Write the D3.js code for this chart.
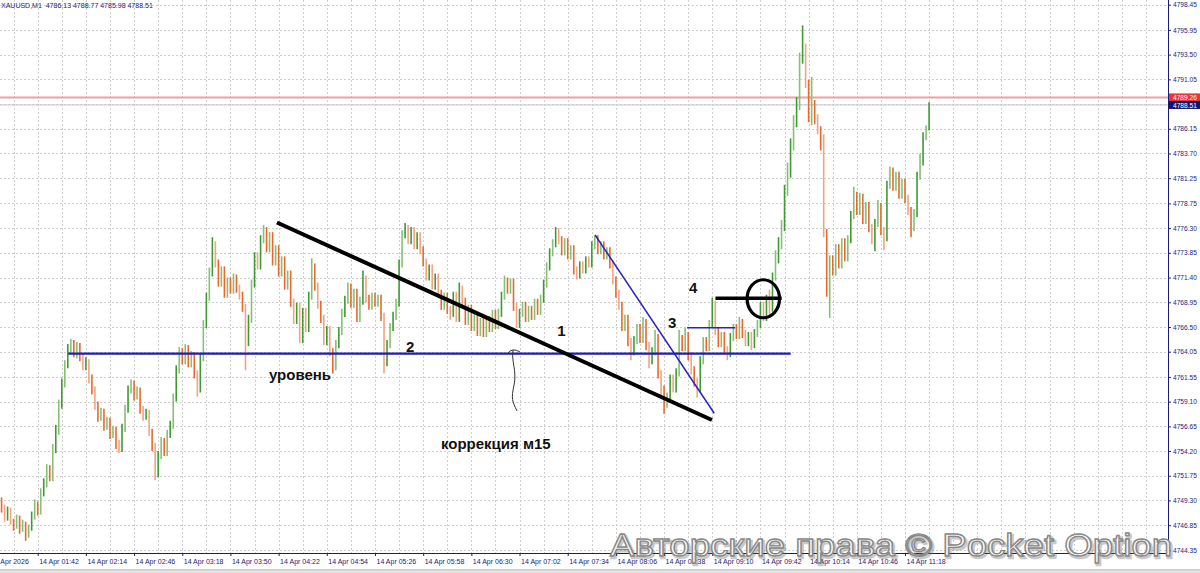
<!DOCTYPE html>
<html><head><meta charset="utf-8">
<script src="https://cdn.jsdelivr.net/npm/d3@7"></script>
<style>body{margin:0;background:#fff}svg{display:block}</style>
</head><body>
<svg id="c" width="1200" height="573"></svg>
<script>
// ---------- data ----------
const symbolHeader = "XAUUSD,M1  4786.13 4788.77 4785.98 4788.51";
const firstBarMinute = 78;      // 01:18
const barStepMinutes = 2;
const firstOpen = 4749.0;
const closes = [
4748.5,4747.6,4748.3,4747.2,4746.8,4747.5,4746.4,4747.0,4745.9,4746.6,
4747.8,4748.9,4748.2,4750.1,4751.0,4752.4,4751.6,4754.5,4756.2,4758.8,
4760.9,4762.8,4764.3,4764.9,4763.9,4764.6,4763.5,4762.6,4763.0,4761.4,
4760.2,4758.7,4757.5,4758.1,4756.6,4757.2,4755.8,4756.3,4754.8,4754.5,
4756.5,4758.4,4760.3,4760.9,4759.6,4760.2,4758.3,4757.6,4758.0,4756.1,
4754.6,4752.0,4753.8,4755.2,4754.1,4755.9,4756.8,4759.5,4762.3,4764.0,
4763.2,4764.4,4762.9,4763.7,4761.8,4760.4,4763.5,4766.8,4769.5,4771.9,
4774.6,4772.8,4770.9,4772.1,4769.8,4771.0,4770.2,4771.4,4770.3,4769.6,
4768.4,4765.0,4767.3,4770.8,4773.5,4772.6,4775.2,4776.0,4774.3,4775.5,
4773.0,4774.2,4771.9,4773.1,4770.6,4771.7,4768.9,4767.2,4768.5,4765.3,
4768.0,4766.4,4769.6,4772.4,4770.5,4768.7,4767.3,4765.1,4766.2,4764.0,
4762.6,4764.8,4766.1,4767.9,4769.2,4770.4,4768.8,4769.9,4767.4,4769.1,
4771.2,4769.3,4768.6,4769.5,4768.9,4769.3,4767.5,4763.0,4764.8,4766.5,
4767.6,4768.9,4772.8,4775.7,4776.2,4775.1,4776.0,4774.6,4775.5,4774.1,
4772.9,4771.5,4772.3,4770.6,4771.4,4769.8,4768.6,4769.5,4768.2,4767.9,
4769.6,4767.4,4770.2,4769.0,4767.1,4768.3,4766.5,4767.6,4766.0,4767.0,
4765.9,4767.2,4766.4,4767.8,4766.7,4767.9,4769.6,4771.0,4770.2,4770.9,
4768.5,4766.8,4767.9,4768.6,4767.4,4768.2,4767.6,4768.9,4768.1,4769.3,
4770.8,4772.5,4773.9,4774.8,4775.9,4775.1,4774.0,4774.9,4773.6,4774.2,
4772.1,4771.7,4772.6,4772.2,4773.1,4772.8,4774.6,4775.2,4774.1,4774.6,
4773.6,4774.0,4772.7,4771.1,4769.8,4768.6,4766.5,4767.3,4765.0,4764.1,
4765.2,4766.4,4765.3,4766.9,4764.6,4763.2,4764.1,4765.4,4761.8,4760.3,
4758.9,4759.6,4761.4,4760.4,4762.0,4765.3,4764.5,4765.6,4763.6,4762.2,
4761.0,4760.4,4763.2,4765.1,4764.5,4766.8,4768.7,4766.1,4764.9,4765.6,
4764.2,4763.9,4765.5,4766.4,4765.7,4766.9,4765.8,4765.0,4765.6,4764.8,
4765.9,4766.8,4768.6,4767.5,4769.3,4768.4,4771.5,4773.2,4774.6,4776.4,
4779.9,4781.7,4784.6,4786.9,4788.4,4793.0,4794.2,4790.6,4787.3,4788.6,
4787.2,4786.0,4784.5,4775.8,4771.5,4773.2,4772.0,4774.3,4772.7,4774.9,
4773.4,4775.2,4777.6,4779.5,4778.0,4779.3,4777.1,4778.5,4776.3,4775.1,
4776.8,4778.4,4776.0,4775.3,4780.6,4781.9,4780.4,4781.5,4779.6,4780.8,
4779.2,4778.0,4776.4,4777.8,4781.5,4782.9,4785.4,4786.13,4788.51];
const highs = [
4749.6,4748.9,4748.7,4748.6,4747.5,4747.9,4747.8,4747.4,4747.2,4746.9,
4748.2,4749.4,4749.2,4750.5,4751.5,4752.9,4752.8,4754.9,4756.8,4759.3,
4761.4,4763.2,4764.8,4765.3,4765.2,4765.0,4764.9,4763.9,4763.5,4763.3,
4761.8,4760.6,4759.1,4758.5,4758.4,4757.6,4757.5,4756.7,4756.6,4755.3,
4756.9,4758.8,4760.7,4761.3,4761.2,4760.6,4760.5,4758.7,4758.4,4758.3,
4756.4,4755.0,4754.2,4755.6,4755.5,4756.3,4757.2,4759.9,4762.7,4764.5,
4764.4,4764.8,4764.7,4764.1,4764.0,4762.2,4763.9,4767.2,4769.9,4772.4,
4775.4,4775.0,4773.2,4772.5,4772.5,4771.4,4771.4,4771.8,4771.7,4770.7,
4770.0,4768.8,4767.7,4771.2,4773.9,4773.9,4775.6,4776.6,4776.4,4775.9,
4775.9,4774.6,4774.6,4773.5,4773.5,4772.1,4772.1,4769.3,4768.9,4768.9,
4768.4,4768.4,4770.0,4773.3,4772.8,4770.9,4769.1,4767.7,4766.6,4766.6,
4764.4,4765.2,4766.5,4768.3,4769.6,4770.9,4770.8,4770.3,4770.3,4769.5,
4772.1,4771.6,4769.7,4769.9,4769.9,4769.7,4769.7,4767.9,4765.2,4766.9,
4768.0,4769.3,4773.2,4776.1,4776.8,4776.6,4776.4,4776.4,4775.9,4775.9,
4774.5,4773.3,4772.7,4772.7,4771.8,4771.8,4770.2,4769.9,4769.9,4768.6,
4770.0,4770.0,4770.9,4770.6,4769.4,4768.7,4768.7,4768.0,4768.0,4767.4,
4767.4,4767.6,4767.6,4768.2,4768.2,4768.3,4770.0,4771.6,4771.4,4771.3,
4771.3,4768.9,4768.3,4769.0,4769.0,4768.6,4768.6,4769.3,4769.3,4769.7,
4771.2,4772.9,4774.3,4775.2,4776.4,4776.3,4775.5,4775.3,4775.3,4774.6,
4774.6,4772.5,4773.0,4773.0,4773.5,4773.5,4775.0,4775.6,4775.6,4775.0,
4775.0,4774.4,4774.4,4773.1,4771.5,4770.2,4769.0,4767.7,4767.7,4765.4,
4765.6,4766.8,4766.8,4767.5,4767.3,4765.0,4764.5,4766.2,4765.8,4762.2,
4760.7,4760.0,4761.8,4761.8,4762.4,4766.2,4765.7,4766.4,4766.0,4764.0,
4762.6,4761.4,4763.6,4765.5,4765.5,4767.2,4769.4,4769.1,4766.5,4766.0,
4766.0,4764.6,4765.9,4766.8,4766.8,4767.5,4767.3,4766.2,4766.0,4766.0,
4766.3,4767.2,4769.0,4769.0,4769.7,4770.2,4771.9,4774.1,4775.4,4777.1,
4780.6,4782.8,4785.2,4787.5,4789.3,4793.7,4796.4,4794.6,4791.0,4791.3,
4789.0,4787.6,4786.4,4785.6,4776.2,4773.6,4773.6,4774.7,4774.7,4775.3,
4775.3,4775.6,4778.0,4780.4,4779.9,4779.8,4779.7,4778.9,4778.9,4776.7,
4777.2,4779.1,4778.8,4776.4,4781.0,4782.4,4782.3,4781.9,4781.9,4781.2,
4781.2,4779.6,4778.4,4778.2,4781.9,4783.7,4785.8,4786.5,4788.77];
const lows = [
4748.1,4747.2,4747.3,4746.9,4746.3,4746.5,4746.0,4746.2,4745.3,4745.6,
4746.3,4747.4,4747.8,4747.9,4749.7,4750.6,4751.2,4751.2,4754.0,4755.8,
4758.4,4760.5,4762.4,4763.9,4763.5,4763.4,4763.1,4762.2,4762.2,4760.9,
4759.8,4758.3,4757.1,4757.2,4756.2,4756.3,4755.4,4755.5,4754.4,4754.0,
4754.1,4756.1,4758.0,4759.9,4759.2,4759.3,4757.9,4757.2,4757.3,4755.7,
4754.2,4751.3,4751.6,4753.4,4753.7,4753.7,4755.5,4756.4,4759.1,4761.9,
4762.8,4762.8,4762.5,4762.5,4761.4,4759.6,4760.0,4763.1,4766.4,4769.1,
4771.5,4772.4,4770.5,4770.5,4769.4,4769.4,4769.8,4769.8,4769.9,4769.2,
4768.0,4762.2,4764.6,4766.9,4770.4,4772.2,4772.2,4774.8,4773.9,4773.9,
4772.6,4772.6,4771.5,4771.5,4770.2,4770.2,4768.5,4766.8,4766.8,4764.9,
4764.9,4766.0,4766.0,4769.2,4770.1,4768.3,4766.9,4764.7,4764.7,4763.6,
4761.9,4762.2,4764.4,4765.7,4767.5,4768.8,4768.4,4768.4,4767.0,4767.0,
4768.7,4768.9,4768.2,4768.2,4768.5,4768.5,4767.1,4761.9,4762.6,4764.4,
4766.1,4767.2,4768.5,4772.4,4775.3,4774.7,4774.7,4774.2,4774.2,4773.7,
4772.5,4771.1,4771.1,4770.2,4770.2,4769.4,4768.2,4768.2,4767.8,4767.2,
4767.5,4767.0,4767.0,4768.6,4766.7,4766.7,4766.1,4766.1,4765.6,4765.6,
4765.5,4765.5,4766.0,4766.0,4766.3,4766.3,4767.5,4769.2,4769.8,4769.8,
4768.1,4766.4,4766.4,4767.5,4767.0,4767.0,4767.2,4767.2,4767.7,4767.7,
4768.9,4770.4,4772.1,4773.5,4774.4,4774.7,4773.6,4773.6,4773.2,4773.2,
4771.7,4771.2,4771.3,4771.8,4771.8,4772.4,4772.4,4774.2,4773.7,4773.7,
4773.2,4773.2,4772.3,4770.7,4769.4,4768.2,4766.1,4766.1,4764.6,4763.2,
4763.7,4764.8,4764.9,4764.9,4764.2,4762.4,4762.8,4763.7,4761.4,4759.6,
4757.9,4758.5,4759.2,4760.0,4760.0,4761.6,4764.1,4764.1,4763.2,4761.8,
4760.6,4759.5,4760.0,4762.8,4764.1,4764.1,4766.4,4765.7,4764.5,4764.5,
4763.8,4763.2,4763.5,4765.1,4765.3,4765.3,4765.4,4764.6,4764.6,4764.2,
4764.4,4765.5,4766.4,4767.1,4767.1,4767.6,4768.0,4771.1,4772.8,4774.2,
4776.0,4779.5,4781.3,4784.0,4786.3,4788.0,4792.6,4790.2,4786.8,4786.5,
4786.6,4785.6,4784.0,4775.4,4769.5,4767.4,4771.6,4771.6,4772.3,4772.3,
4773.0,4773.0,4774.8,4777.2,4777.6,4777.6,4776.7,4776.7,4775.9,4774.7,
4774.0,4776.4,4775.6,4774.1,4775.0,4780.2,4780.0,4780.0,4779.2,4779.2,
4778.8,4777.6,4775.4,4776.0,4777.4,4781.1,4782.5,4785.0,4785.98];

const priceTicks = [4798.45,4795.95,4793.50,4791.05,4788.60,4786.15,4783.70,4781.25,4778.75,4776.30,4773.85,4771.40,4768.95,4766.50,4764.05,4761.55,4759.10,4756.65,4754.20,4751.75,4749.30,4746.85,4744.35];
const timeTicks = [70,102,134,166,198,230,262,294,326,358,390,422,454,486,518,550,582,614,646,678];
const timeTickLabels = ["14 Apr 2026","14 Apr 01:42","14 Apr 02:14","14 Apr 02:46","14 Apr 03:18","14 Apr 03:50","14 Apr 04:22","14 Apr 04:54","14 Apr 05:26","14 Apr 05:58","14 Apr 06:30","14 Apr 07:02","14 Apr 07:34","14 Apr 08:06","14 Apr 08:38","14 Apr 09:10","14 Apr 09:42","14 Apr 10:14","14 Apr 10:46","14 Apr 11:18"];
const askPrice = 4789.26;
const bidPrice = 4788.51;

// annotation objects (time in minutes of day, price)
const levelLine = {t1:122.3, t2:602.1, p:4763.85};
const blackTrend = {t1:260.9, p1:4776.86, t2:549.8, p2:4757.28};
const blueTrend = {t1:472.2, p1:4775.62, t2:551.3, p2:4757.95};
const smallBlueLine = {t1:533.3, t2:565.2, p:4766.43};
const blackHLine = {t1:552.1, t2:596.1, p:4769.35};
const circleMark = {t:583.9, p:4769.30};
const arrowTip = {t:417.7, p:4764.32};
const labels = [
  {text:"1", t:447.0, p:4765.61},
  {text:"2", t:346.6, p:4764.02},
  {text:"3", t:520.6, p:4766.40},
  {text:"4", t:534.6, p:4769.87},
  {text:"уровень", t:255.6, p:4761.25},
  {text:"коррекция м15", t:369.8, p:4754.41}
];
const watermark = "Авторские права © Pocket Option";

// ---------- layout ----------
const W = 1200, H = 573, plotR = 1168, plotB = 553;
const navy = "#1c1c78";
const x = d3.scaleLinear().domain([102, 678]).range([37.7, 905]);
const y = d3.scaleLinear().domain([4744.35, 4798.45]).range([550.4, 4.7]);

const svg = d3.select("#c");
svg.append("rect").attr("width", W).attr("height", H).attr("fill", "#fff");
svg.append("defs").append("clipPath").attr("id","plot")
  .append("rect").attr("x",0).attr("y",0).attr("width",plotR).attr("height",plotB);
const plot = svg.append("g").attr("clip-path","url(#plot)");

// grid
const grid = plot.append("g").attr("stroke","#cfcfcf").attr("stroke-dasharray","2,2").attr("stroke-width",1);
grid.selectAll("line.h").data(priceTicks).join("line")
  .attr("x1",0).attr("x2",plotR).attr("y1",d=>Math.round(y(d))+0.5).attr("y2",d=>Math.round(y(d))+0.5);
grid.selectAll("line.v").data(d3.range(54, 880, 16)).join("line")
  .attr("y1",0).attr("y2",plotB).attr("x1",d=>Math.round(x(d))+0.5).attr("x2",d=>Math.round(x(d))+0.5);

// ask / bid lines
plot.append("line").attr("x1",0).attr("x2",plotR).attr("y1",y(askPrice)).attr("y2",y(askPrice))
  .attr("stroke","#f2a0a0").attr("stroke-width",2);
plot.append("line").attr("x1",0).attr("x2",plotR).attr("y1",y(bidPrice)).attr("y2",y(bidPrice))
  .attr("stroke","#c8c8c8").attr("stroke-width",1);

// bars
const bars = closes.map((c,i)=>{
  const o = i ? closes[i-1] : firstOpen;
  return {t:firstBarMinute + i*barStepMinutes, o, c,
          hi:Math.max(highs[i],o,c), lo:Math.min(lows[i],o,c)};
});
plot.append("g").selectAll("line").data(bars).join("line")
  .attr("x1",d=>x(d.t)).attr("x2",d=>x(d.t))
  .attr("y1",d=>y(d.hi)).attr("y2",d=>y(d.lo))
  .attr("stroke",(d,i)=> d.c>=d.o ? (i%2 ? "#86c074" : "#3f9a35") : (i%2 ? "#f2a482" : "#e8682e"))
  .attr("stroke-width",1.6);

// annotations
const ann = plot.append("g");
ann.append("line").attr("x1",x(levelLine.t1)).attr("x2",x(levelLine.t2))
  .attr("y1",y(levelLine.p)).attr("y2",y(levelLine.p)).attr("stroke","#1e1eb0").attr("stroke-width",2.2);
ann.append("line").attr("x1",x(blackTrend.t1)).attr("y1",y(blackTrend.p1))
  .attr("x2",x(blackTrend.t2)).attr("y2",y(blackTrend.p2)).attr("stroke","#000").attr("stroke-width",4);
ann.append("line").attr("x1",x(blueTrend.t1)).attr("y1",y(blueTrend.p1))
  .attr("x2",x(blueTrend.t2)).attr("y2",y(blueTrend.p2)).attr("stroke","#2424c8").attr("stroke-width",1.5);
ann.append("line").attr("x1",x(smallBlueLine.t1)).attr("x2",x(smallBlueLine.t2))
  .attr("y1",y(smallBlueLine.p)).attr("y2",y(smallBlueLine.p)).attr("stroke","#2424c8").attr("stroke-width",1.5);
ann.append("line").attr("x1",x(blackHLine.t1)).attr("x2",x(blackHLine.t2))
  .attr("y1",y(blackHLine.p)).attr("y2",y(blackHLine.p)).attr("stroke","#000").attr("stroke-width",3.5);
ann.append("ellipse").attr("cx",x(circleMark.t)).attr("cy",y(circleMark.p))
  .attr("rx",16.2).attr("ry",19).attr("fill","none").attr("stroke","#000").attr("stroke-width",3.2);
const arr = ann.append("g").attr("transform",`translate(${x(arrowTip.t)},${y(arrowTip.p)})`)
  .attr("fill","none").attr("stroke","#333").attr("stroke-width",1);
arr.append("path").attr("d","M0,1 C-2,12 4,22 1,36 S-1,52 4,62");
arr.append("path").attr("d","M-6,5 Q-1,-2 7,3");
ann.selectAll("text").data(labels).join("text")
  .attr("x",d=>x(d.t)).attr("y",d=>y(d.p)).text(d=>d.text)
  .attr("font-family","'Liberation Sans', Arial, sans-serif").attr("font-weight","bold")
  .attr("font-size",15).attr("fill","#111");

// axes
const fontAx = "'Liberation Sans', Arial, sans-serif";
const yAxis = d3.axisRight(y).tickValues(priceTicks).tickFormat(d=>d.toFixed(2)).tickSize(3).tickPadding(2);
const gy = svg.append("g").attr("transform",`translate(${plotR},0)`).call(yAxis);
gy.select(".domain").remove();
gy.selectAll("line").attr("stroke",navy);
gy.selectAll("text").attr("font-family",fontAx).attr("font-size",6.6).attr("fill",navy);

const xAxis = d3.axisBottom(x).tickValues(timeTicks).tickFormat((d,i)=>timeTickLabels[i]).tickSize(3).tickPadding(2);
const gx = svg.append("g").attr("transform",`translate(0,${plotB})`).call(xAxis);
gx.select(".domain").remove();
gx.selectAll("line").attr("stroke",navy);
gx.selectAll("text").attr("font-family",fontAx).attr("font-size",7).attr("fill",navy)
  .attr("text-anchor","start").attr("x",1).attr("dy","0.9em");

svg.append("line").attr("x1",plotR+0.5).attr("x2",plotR+0.5).attr("y1",0).attr("y2",plotB+0.5).attr("stroke",navy).attr("stroke-width",1);
svg.append("line").attr("x1",0).attr("x2",plotR+0.5).attr("y1",plotB+0.5).attr("y2",plotB+0.5).attr("stroke",navy).attr("stroke-width",1);

// price boxes
[[askPrice,"#f03434"],[bidPrice,"#141470"]].forEach(([p,col])=>{
  svg.append("rect").attr("x",plotR+1).attr("y",y(p)-4).attr("width",W-plotR-1).attr("height",8).attr("fill",col);
  svg.append("text").attr("x",plotR+5).attr("y",y(p)+2.6).text(p.toFixed(2))
    .attr("font-family",fontAx).attr("font-size",6.6).attr("fill","#fff");
});

// header
svg.append("text").attr("x",1).attr("y",7.5).text(symbolHeader)
  .attr("font-family",fontAx).attr("font-size",7).attr("fill",navy).attr("xml:space","preserve")
  .style("white-space","pre");

// bottom strip
svg.append("rect").attr("x",0).attr("y",569.5).attr("width",W).attr("height",1).attr("fill","#9a9a9a");
svg.append("rect").attr("x",0).attr("y",570.5).attr("width",W).attr("height",3).attr("fill","#e4e4e4");

// watermark
svg.append("text").attr("x",611.5).attr("y",557.5).text(watermark)
  .attr("font-family",fontAx).attr("font-size",32).attr("textLength",562).attr("lengthAdjust","spacingAndGlyphs")
  .attr("fill","none").attr("stroke","#666").attr("stroke-width",2.4).attr("opacity",0.35);
svg.append("text").attr("x",610).attr("y",556).text(watermark)
  .attr("font-family",fontAx).attr("font-size",32).attr("textLength",562).attr("lengthAdjust","spacingAndGlyphs")
  .attr("fill","#f7f7f7").attr("stroke","#888").attr("stroke-width",1.3);
</script>
</body></html>
